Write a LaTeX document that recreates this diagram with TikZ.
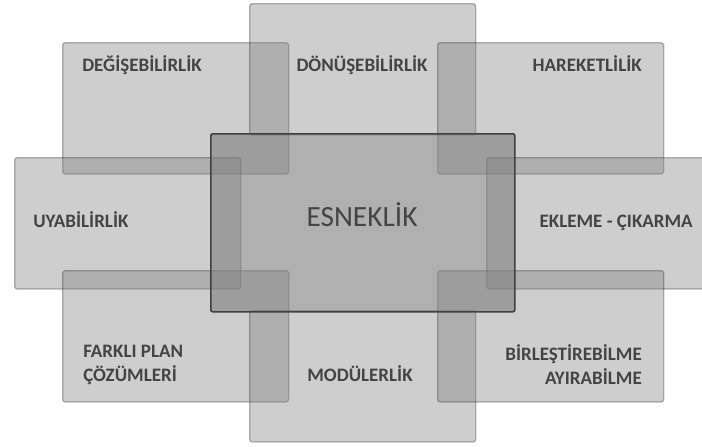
\documentclass[tikz,border=0pt]{standalone}
\usepackage{fontspec}
\setmainfont{Carlito}
\usetikzlibrary{positioning}
\definecolor{boxgray}{RGB}{128,128,128}
\definecolor{txtgray}{RGB}{68,68,68}
\tikzset{
  petal/.style={rectangle, rounded corners=2pt, fill=boxgray, fill opacity=0.39,
    draw=black, draw opacity=0.28, line width=1pt, inner sep=0pt, anchor=north west,
    minimum width=169.5pt, minimum height=98.5pt},
  core/.style={rectangle, rounded corners=1.5pt, fill=boxgray, fill opacity=0.62,
    draw=black!75, line width=1.2pt, inner sep=0pt, anchor=north west,
    minimum width=228pt, minimum height=133.5pt},
  lbl/.style={text=txtgray, inner sep=0pt, font=\bfseries\fontsize{14.25}{18}\selectfont},
  biglbl/.style={text=txtgray, inner sep=0pt, font=\fontsize{22}{26}\selectfont}
}
\begin{document}
\begin{tikzpicture}[x=0.75pt,y=-0.75pt]
\useasboundingbox (0,0) rectangle (702,446);
\clip (0,0) rectangle (702,446);
% outer boxes
\node[petal] (degis) at (62,42) {};   \node[petal] (donus) at (249,3) {};   \node[petal] (hareket) at (437,42) {};
\node[petal] (uyab) at (14,157) {};                                         \node[petal] (ekleme) at (486,157) {};
\node[petal] (farkli) at (62,270) {}; \node[petal] (moduler) at (249,310) {}; \node[petal] (birles) at (437,270) {};
% centre
\node[core] (esnek) at (210,133) {};
% labels
\node[lbl, anchor=base west] (tdegis) at (82,71) {DEĞİŞEBİLİRLİK};
\node[lbl, anchor=base] (tdonus) at (362,71) {DÖNÜŞEBİLİRLİK};
\node[lbl, anchor=base east] (thareket) at (642,71) {HAREKETLİLİK};
\node[lbl, anchor=base west] (tuyab) at (33,227) {UYABİLİRLİK};
\node[biglbl, anchor=base] (tesnek) at (362,226) {ESNEKLİK};
\node[lbl, anchor=base east] (tekleme) at (693,227) {EKLEME - ÇIKARMA};
\node[lbl, anchor=west, align=left] (tfarkli) at (83,365) {FARKLI PLAN\\ÇÖZÜMLERİ};
\node[lbl, anchor=base] (tmoduler) at (360,381) {MODÜLERLİK};
\node[lbl, anchor=east, align=right] (tbirles) at (642,365) {BİRLEŞTİREBİLME\\AYIRABİLME};
\end{tikzpicture}
\end{document}
